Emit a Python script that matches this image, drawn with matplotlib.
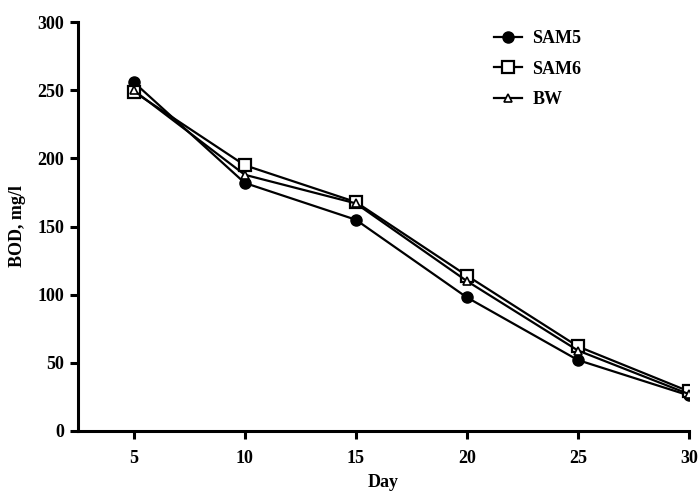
import matplotlib
matplotlib.use("Agg")
import matplotlib.pyplot as plt

days = [5, 10, 15, 20, 25, 30]
sam5 = [256, 182, 155, 98, 52, 26]
sam6 = [249, 195, 168, 114, 62, 29]
bw = [250, 188, 167, 110, 59, 27]

plt.rcParams["font.family"] = ["Liberation Serif", "DejaVu Serif"]
plt.rcParams["font.weight"] = "bold"

fig = plt.figure(figsize=(6.98, 4.93), dpi=100)
ax = fig.add_axes([0.112, 0.126, 0.875, 0.829])

ax.plot(days, sam5, color="black", lw=1.6, marker="o", ms=8,
        mfc="black", mec="black", label="SAM5")
ax.plot(days, sam6, color="black", lw=1.6, marker="s", ms=9,
        mfc="white", mec="black", mew=1.6, label="SAM6")
ax.plot(days, bw, color="black", lw=1.6, marker="^", ms=6,
        mfc="white", mec="black", mew=1.2, label="BW")

ax.set_xlim(2.5, 30)
ax.set_ylim(0, 300)
ax.set_xticks(days)
ax.set_yticks([0, 50, 100, 150, 200, 250, 300])

for side in ("top", "right"):
    ax.spines[side].set_visible(False)
for side in ("left", "bottom"):
    ax.spines[side].set_linewidth(2.2)
ax.tick_params(width=2.2, length=6, labelsize=13, direction="out", pad=4)
ax.tick_params(axis="x", pad=8)
for lab in ax.get_xticklabels() + ax.get_yticklabels():
    lab.set_fontweight("bold")

ax.set_xlabel("Day", fontsize=13, fontweight="bold", labelpad=5)
ax.set_ylabel("BOD, mg/l", fontsize=13, fontweight="bold", labelpad=8)

ax.legend(loc="upper left", bbox_to_anchor=(0.655, 1.02), frameon=False,
          handlelength=1.5, handletextpad=0.6, labelspacing=0.75,
          prop={"weight": "bold", "size": 13})

fig.savefig("out.png", dpi=100)
